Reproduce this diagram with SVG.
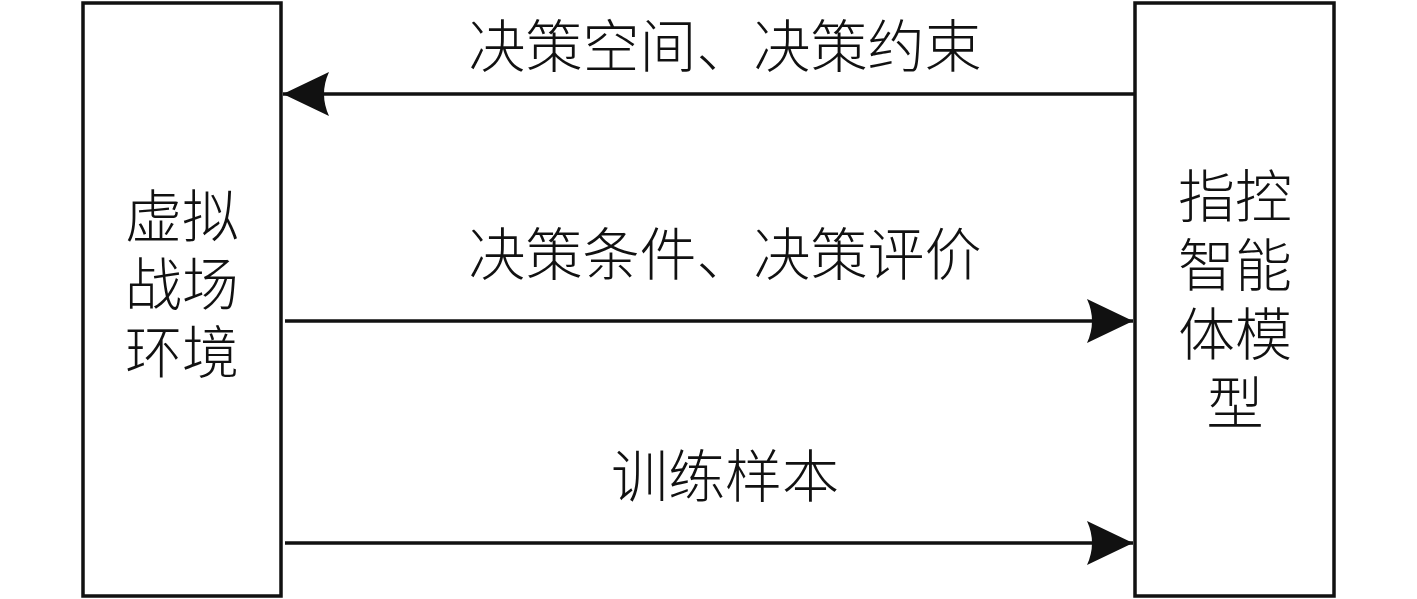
<svg xmlns="http://www.w3.org/2000/svg" width="1417" height="599" viewBox="0 0 1417 599">
<style>
.box{fill:#fff;stroke:#111;stroke-width:3.5}
.ln{stroke:#111;stroke-width:3.5;fill:none}
.t{font-family:"Noto Sans CJK SC","Noto Sans CJK JP",sans-serif;font-size:57px;fill:#111;text-anchor:middle;font-weight:300}
</style>
<defs>
<marker id="ah" viewBox="0 0 46 44" refX="46" refY="22" markerWidth="46" markerHeight="44" markerUnits="userSpaceOnUse" orient="auto">
<path d="M0,0 L46,22 L0,44 Q10,22 0,0 Z" fill="#111"/>
</marker>
</defs>
<g id="env">
<rect class="box" x="83" y="3" width="198" height="593"/>
<text class="t"><tspan x="182" y="237">虚拟</tspan><tspan x="182" y="305">战场</tspan><tspan x="182" y="373">环境</tspan></text>
</g>
<g id="agent">
<rect class="box" x="1135" y="3" width="199" height="593"/>
<text class="t"><tspan x="1235" y="217">指控</tspan><tspan x="1235" y="286">智能</tspan><tspan x="1235" y="355">体模</tspan><tspan x="1235" y="424">型</tspan></text>
</g>
<g id="connectors">
<line class="ln" x1="1135" y1="94" x2="283" y2="94" marker-end="url(#ah)"/>
<line class="ln" x1="285" y1="321" x2="1133" y2="321" marker-end="url(#ah)"/>
<line class="ln" x1="285" y1="543" x2="1133" y2="543" marker-end="url(#ah)"/>
<text class="t" x="725" y="67">决策空间、决策约束</text>
<text class="t" x="725" y="275">决策条件、决策评价</text>
<text class="t" x="725" y="497">训练样本</text>
</g>
</svg>
